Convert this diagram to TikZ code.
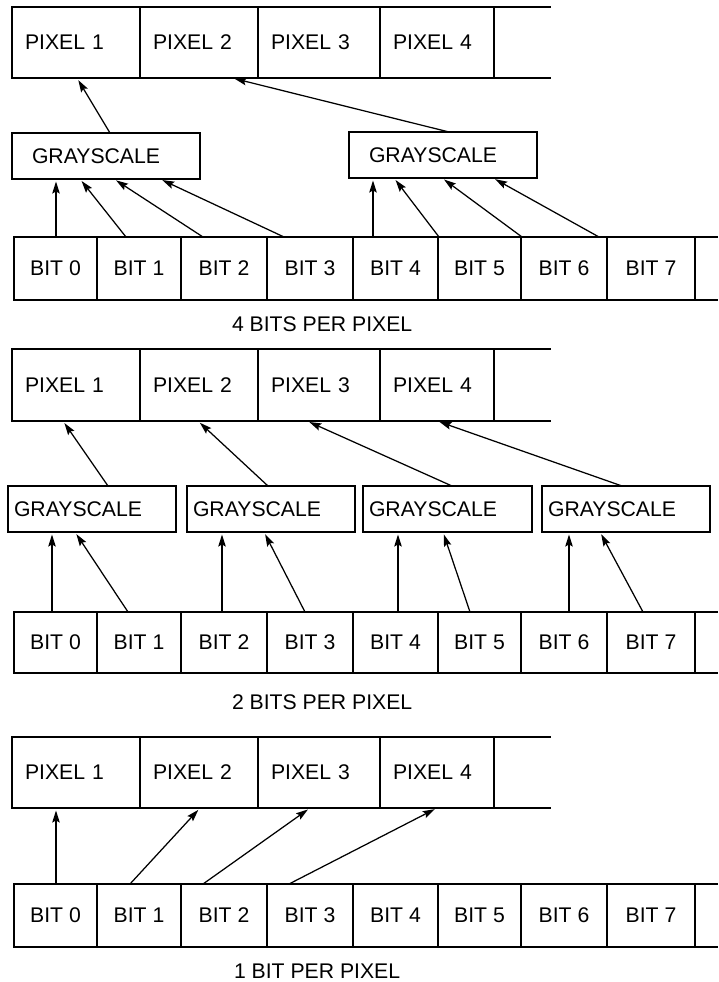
\documentclass[tikz,border=0pt]{standalone}
\usepackage{fontspec}
\setmainfont{Liberation Sans}
\usetikzlibrary{arrows.meta}
\begin{document}
\begin{tikzpicture}[x=1pt,y=-1pt,
  every node/.style={font=\fontsize{21.2}{25}\selectfont, outer sep=0pt},
  ln/.style={line width=1.25pt},
  pix/.style={draw, line width=1.25pt, anchor=north west, inner xsep=13pt, inner ysep=0pt, align=left},
  bitc/.style={draw, line width=1.25pt, anchor=north west, inner sep=0pt},
  gbox/.style={draw, line width=1.25pt, anchor=north west, inner ysep=0pt, align=left, minimum height=46pt},
  lbl/.style={anchor=base west, inner sep=0pt},
  arr/.style={line width=1.25pt, -{Stealth[length=12pt,width=7.5pt,inset=2pt]}, shorten >=2.5pt}]
\useasboundingbox (0,0) rectangle (718,982);

% ================= 4 BITS PER PIXEL =================
\node[pix, text width=102pt, minimum height=71pt] (a1) at (12,7) {PIXEL 1};
\node[pix, text width=92pt, minimum height=71pt] (a2) at (140,7) {PIXEL 2};
\node[pix, text width=96pt, minimum height=71pt] (a3) at (258,7) {PIXEL 3};
\node[pix, text width=88pt, minimum height=71pt] (a4) at (380,7) {PIXEL 4};
\draw[ln] (a4.north east) -- ++(57,0);
\draw[ln] (a4.south east) -- ++(57,0);

\node[gbox, inner xsep=20pt, text width=148pt] (ag1) at (12,133) {GRAYSCALE};
\node[gbox, inner xsep=20pt, text width=148pt] (ag2) at (349,132) {GRAYSCALE};

\node[bitc, minimum width=83pt, minimum height=63pt] (aB0) at (14,237) {BIT 0};
\node[bitc, minimum width=84pt, minimum height=63pt] (aB1) at (97,237) {BIT 1};
\node[bitc, minimum width=86pt, minimum height=63pt] (aB2) at (181,237) {BIT 2};
\node[bitc, minimum width=86pt, minimum height=63pt] (aB3) at (267,237) {BIT 3};
\node[bitc, minimum width=85pt, minimum height=63pt] (aB4) at (353,237) {BIT 4};
\node[bitc, minimum width=83pt, minimum height=63pt] (aB5) at (438,237) {BIT 5};
\node[bitc, minimum width=86pt, minimum height=63pt] (aB6) at (521,237) {BIT 6};
\node[bitc, minimum width=88pt, minimum height=63pt] (aB7) at (607,237) {BIT 7};
\draw[ln] (aB7.north east) -- ++(23,0);
\draw[ln] (aB7.south east) -- ++(23,0);

\draw[arr] ([xshift=98pt]ag1.north west) -- ([xshift=65pt]a1.south west);
\draw[arr] ([xshift=100pt]ag2.north west) -- ([xshift=92pt]a2.south west);
\draw[arr] ([xshift=42pt]aB0.north west) -- ([xshift=44pt]ag1.south west);
\draw[arr] ([xshift=29pt]aB1.north west) -- ([xshift=68pt]ag1.south west);
\draw[arr] ([xshift=22pt]aB2.north west) -- ([xshift=102pt]ag1.south west);
\draw[arr] ([xshift=17pt]aB3.north west) -- ([xshift=148pt]ag1.south west);
\draw[arr] ([xshift=20pt]aB4.north west) -- ([xshift=24pt]ag2.south west);
\draw[arr] ([xshift=1pt]aB5.north west) -- ([xshift=45pt]ag2.south west);
\draw[arr] ([xshift=1pt]aB6.north west) -- ([xshift=93pt]ag2.south west);
\draw[arr] ([xshift=-8pt]aB6.north east) -- ([xshift=144pt]ag2.south west);

\node[lbl] (l4) at (232,331) {4 BITS PER PIXEL};

% ================= 2 BITS PER PIXEL =================
\node[pix, text width=102pt, minimum height=72pt] (b1) at (12,349) {PIXEL 1};
\node[pix, text width=92pt, minimum height=72pt] (b2) at (140,349) {PIXEL 2};
\node[pix, text width=96pt, minimum height=72pt] (b3) at (258,349) {PIXEL 3};
\node[pix, text width=88pt, minimum height=72pt] (b4) at (380,349) {PIXEL 4};
\draw[ln] (b4.north east) -- ++(57,0);
\draw[ln] (b4.south east) -- ++(57,0);

\node[gbox, inner xsep=6pt, text width=156pt] (bg1) at (8,486) {GRAYSCALE};
\node[gbox, inner xsep=6pt, text width=156pt] (bg2) at (187,486) {GRAYSCALE};
\node[gbox, inner xsep=6pt, text width=157pt] (bg3) at (363,486) {GRAYSCALE};
\node[gbox, inner xsep=6pt, text width=156pt] (bg4) at (542,486) {GRAYSCALE};

\node[bitc, minimum width=83pt, minimum height=61pt] (bB0) at (14,612) {BIT 0};
\node[bitc, minimum width=84pt, minimum height=61pt] (bB1) at (97,612) {BIT 1};
\node[bitc, minimum width=86pt, minimum height=61pt] (bB2) at (181,612) {BIT 2};
\node[bitc, minimum width=86pt, minimum height=61pt] (bB3) at (267,612) {BIT 3};
\node[bitc, minimum width=85pt, minimum height=61pt] (bB4) at (353,612) {BIT 4};
\node[bitc, minimum width=83pt, minimum height=61pt] (bB5) at (438,612) {BIT 5};
\node[bitc, minimum width=86pt, minimum height=61pt] (bB6) at (521,612) {BIT 6};
\node[bitc, minimum width=88pt, minimum height=61pt] (bB7) at (607,612) {BIT 7};
\draw[ln] (bB7.north east) -- ++(23,0);
\draw[ln] (bB7.south east) -- ++(23,0);

\draw[arr] ([xshift=100pt]bg1.north west) -- ([xshift=51pt]b1.south west);
\draw[arr] ([xshift=81pt]bg2.north west) -- ([xshift=58pt]b2.south west);
\draw[arr] ([xshift=89pt]bg3.north west) -- ([xshift=49pt]b3.south west);
\draw[arr] ([xshift=80pt]bg4.north west) -- ([xshift=57pt]b4.south west);
\draw[arr] ([xshift=38pt]bB0.north west) -- ([xshift=44pt]bg1.south west);
\draw[arr] ([xshift=31pt]bB1.north west) -- ([xshift=67pt]bg1.south west);
\draw[arr] ([xshift=41pt]bB2.north west) -- ([xshift=35pt]bg2.south west);
\draw[arr] ([xshift=38pt]bB3.north west) -- ([xshift=77pt]bg2.south west);
\draw[arr] ([xshift=45pt]bB4.north west) -- ([xshift=35pt]bg3.south west);
\draw[arr] ([xshift=32pt]bB5.north west) -- ([xshift=80pt]bg3.south west);
\draw[arr] ([xshift=48pt]bB6.north west) -- ([xshift=27pt]bg4.south west);
\draw[arr] ([xshift=36pt]bB7.north west) -- ([xshift=58pt]bg4.south west);

\node[lbl] (l2) at (232,709) {2 BITS PER PIXEL};

% ================= 1 BIT PER PIXEL =================
\node[pix, text width=102pt, minimum height=71pt] (c1) at (12,737) {PIXEL 1};
\node[pix, text width=92pt, minimum height=71pt] (c2) at (140,737) {PIXEL 2};
\node[pix, text width=96pt, minimum height=71pt] (c3) at (258,737) {PIXEL 3};
\node[pix, text width=88pt, minimum height=71pt] (c4) at (380,737) {PIXEL 4};
\draw[ln] (c4.north east) -- ++(57,0);
\draw[ln] (c4.south east) -- ++(57,0);

\node[bitc, minimum width=83pt, minimum height=63pt] (cB0) at (14,884) {BIT 0};
\node[bitc, minimum width=84pt, minimum height=63pt] (cB1) at (97,884) {BIT 1};
\node[bitc, minimum width=86pt, minimum height=63pt] (cB2) at (181,884) {BIT 2};
\node[bitc, minimum width=86pt, minimum height=63pt] (cB3) at (267,884) {BIT 3};
\node[bitc, minimum width=85pt, minimum height=63pt] (cB4) at (353,884) {BIT 4};
\node[bitc, minimum width=83pt, minimum height=63pt] (cB5) at (438,884) {BIT 5};
\node[bitc, minimum width=86pt, minimum height=63pt] (cB6) at (521,884) {BIT 6};
\node[bitc, minimum width=88pt, minimum height=63pt] (cB7) at (607,884) {BIT 7};
\draw[ln] (cB7.north east) -- ++(23,0);
\draw[ln] (cB7.south east) -- ++(23,0);

\draw[arr] ([xshift=42pt]cB0.north west) -- ([xshift=44pt]c1.south west);
\draw[arr] ([xshift=33pt]cB1.north west) -- ([xshift=60pt]c2.south west);
\draw[arr] ([xshift=22pt]cB2.north west) -- ([xshift=52pt]c3.south west);
\draw[arr] ([xshift=22pt]cB3.north west) -- ([xshift=57pt]c4.south west);

\node[lbl] (l1) at (234,978) {1 BIT PER PIXEL};
\end{tikzpicture}
\end{document}
